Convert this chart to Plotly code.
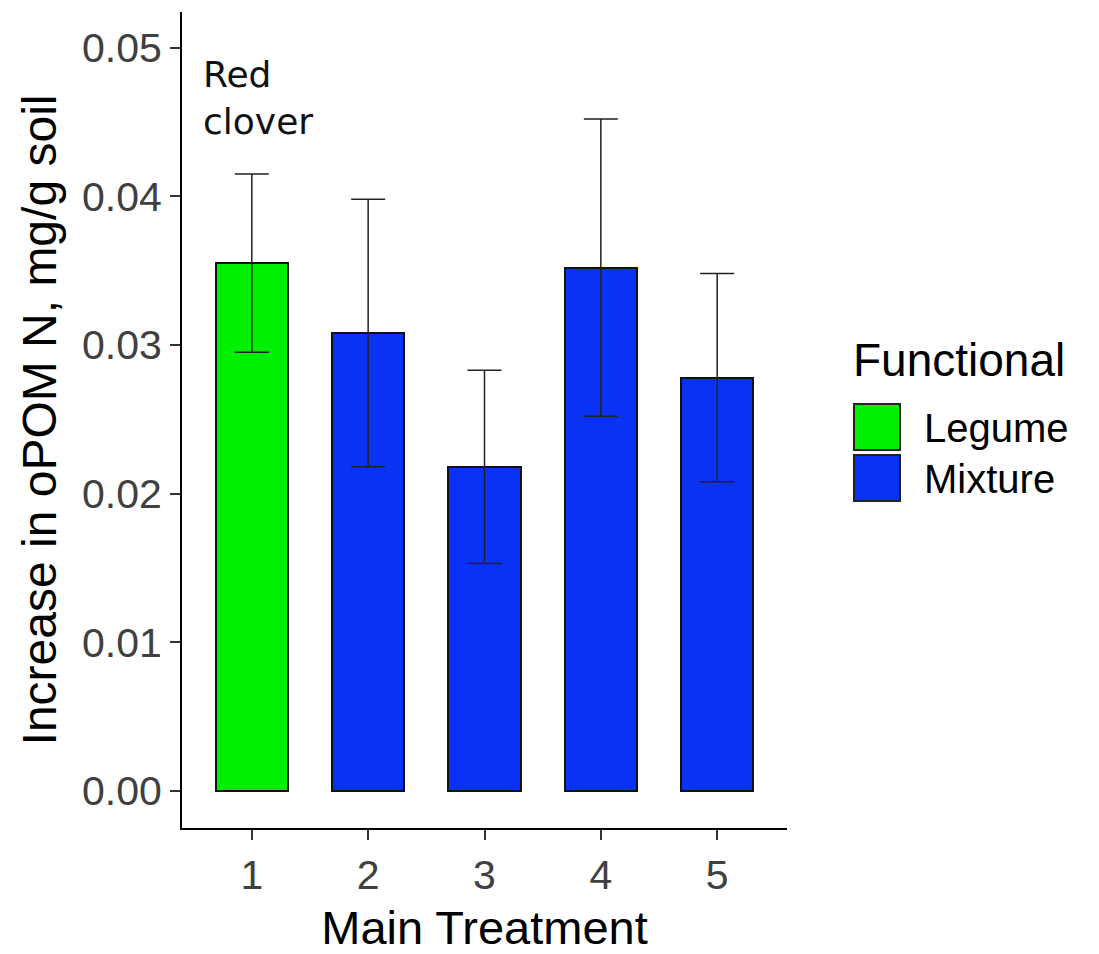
import plotly.graph_objects as go

# ---- data ----
treatments = [1, 2, 3, 4, 5]
functional = ["Legume", "Mixture", "Mixture", "Mixture", "Mixture"]
means = [0.0355, 0.0308, 0.0218, 0.0352, 0.0278]
errors = [0.0060, 0.0090, 0.0065, 0.0100, 0.0070]
groups = ["Legume", "Mixture"]
y_ticks = [0.00, 0.01, 0.02, 0.03, 0.04, 0.05]

colors = {"Legume": "#00ee00", "Mixture": "#0a32f5"}

W, H = 1099, 954
L, R, T, B = 182, 312, 12, 126
PW, PH = W - L - R, H - T - B


def px2paper_x(px):
    return (px - L) / PW


def px2paper_y(py):
    return (H - B - py) / PH


fig = go.Figure()
for g in groups:
    xs = [t for t, f in zip(treatments, functional) if f == g]
    ys = [m for m, f in zip(means, functional) if f == g]
    es = [e for e, f in zip(errors, functional) if f == g]
    fig.add_trace(go.Bar(
        x=xs, y=ys, name=g, width=0.62,
        marker=dict(color=colors[g], line=dict(color="#111111", width=2)),
        error_y=dict(type="data", array=es, visible=True, color="#222222",
                     thickness=1.5, width=17),
        showlegend=False,
    ))

FONT = "Liberation Sans, Arial, sans-serif"
tick_font = dict(family=FONT, size=41, color="#404040")
x_title_font = dict(family=FONT, size=47, color="#000000")
y_title_font = dict(family=FONT, size=48, color="#000000")

fig.update_layout(
    width=W, height=H,
    margin=dict(l=L, r=R, t=T, b=B, autoexpand=False),
    plot_bgcolor="white", paper_bgcolor="white",
    bargap=0,
    xaxis=dict(
        range=[0.4, 5.6], tickvals=treatments, ticktext=[str(t) for t in treatments],
        showline=True, linecolor="#000000", linewidth=2,
        ticks="outside", ticklen=10, tickwidth=1.5, tickcolor="#333333",
        showgrid=False, zeroline=False, tickfont=tick_font,
        title=dict(text="Main Treatment", font=x_title_font, standoff=14),
        automargin=True,
    ),
    yaxis=dict(
        range=[-0.0025, 0.0524], tickvals=y_ticks, tickformat=".2f",
        showline=True, linecolor="#000000", linewidth=2,
        ticks="outside", ticklen=10, tickwidth=1.5, tickcolor="#333333",
        showgrid=False, zeroline=False, tickfont=tick_font,
        title=dict(text="Increase in oPOM N, mg/g soil", font=y_title_font, standoff=10),
        automargin=True,
    ),
)

# "Red clover" label above bar 1
fig.add_annotation(
    x=0.565, y=0.0497, xref="x", yref="y", xanchor="left", yanchor="top",
    text="Red<br>clover", showarrow=False, align="left",
    font=dict(family="DejaVu Sans, sans-serif", size=36, color="#111111"),
)

# Manual legend (large keys like ggplot)
fig.add_annotation(
    x=px2paper_x(851), y=px2paper_y(360), xref="paper", yref="paper",
    xanchor="left", yanchor="middle", text="Functional", showarrow=False,
    font=dict(family=FONT, size=46, color="#000000"),
)
key_tops = [404, 455]
for g, top in zip(groups, key_tops):
    fig.add_shape(
        type="rect", xref="paper", yref="paper",
        x0=px2paper_x(854), x1=px2paper_x(900),
        y0=px2paper_y(top), y1=px2paper_y(top + 46),
        fillcolor=colors[g], line=dict(color="#222222", width=2),
    )
    fig.add_annotation(
        x=px2paper_x(922), y=px2paper_y(top + 24), xref="paper", yref="paper",
        xanchor="left", yanchor="middle", text=g, showarrow=False,
        font=dict(family=FONT, size=40, color="#000000"),
    )

fig.write_html("out.html")
